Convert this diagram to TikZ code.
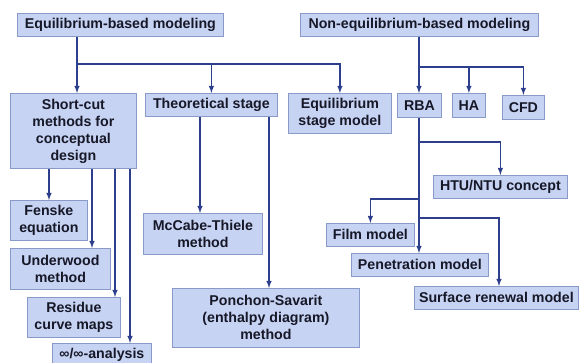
\documentclass[tikz,border=0pt]{standalone}
\usepackage{fontspec}
\setmainfont{Liberation Sans}
\usepackage{tikz}
\usetikzlibrary{arrows,calc}
\definecolor{boxfill}{RGB}{199,211,242}
\definecolor{boxline}{RGB}{138,154,200}
\definecolor{linkcol}{RGB}{45,62,140}
\definecolor{txtcol}{RGB}{22,24,40}
\tikzstyle{bx}=[rectangle, draw=boxline, fill=boxfill, line width=0.8pt, anchor=north west, inner sep=0pt, align=center, text=txtcol, font=\fontsize{14.2}{17}\selectfont\bfseries]
\tikzstyle{conn}=[draw=linkcol, line width=1.4pt, -latex]

\begin{document}
\begin{tikzpicture}[x=1pt,y=-1pt]
	\useasboundingbox (0,0) rectangle (579,363);

	%%% top row
	\node[bx,minimum width=206pt,minimum height=23pt] (eqm) at (17,13) {Equilibrium-based modeling};
	\node[bx,minimum width=238pt,minimum height=23pt] (neqm) at (300,13) {Non-equilibrium-based modeling};

	%%% second row, equilibrium side
	\node[bx,minimum width=126pt,minimum height=75pt] (shortcut) at (10,93) {Short-cut\\methods for\\conceptual\\design};
	\node[bx,minimum width=132pt,minimum height=23pt] (theo) at (145,93) {Theoretical stage};
	\node[bx,minimum width=103pt,minimum height=40pt] (esm) at (288,93) {Equilibrium\\stage model};

	%%% second row, non-equilibrium side
	\node[bx,minimum width=44pt,minimum height=24pt] (rba) at (397,93) {RBA};
	\node[bx,minimum width=33pt,minimum height=24pt] (ha) at (452,93) {HA};
	\node[bx,minimum width=42pt,minimum height=24pt] (cfd) at (502,95) {CFD};

	%%% short-cut methods
	\node[bx,minimum width=77pt,minimum height=40pt] (fenske) at (10,200) {Fenske\\equation};
	\node[bx,minimum width=100pt,minimum height=41pt] (underwood) at (10,248) {Underwood\\method};
	\node[bx,minimum width=93pt,minimum height=40pt] (residue) at (27,297) {Residue\\curve maps};
	\node[bx,minimum width=99pt,minimum height=23pt] (infinf) at (52,343) {∞/∞-analysis};

	%%% theoretical stage methods
	\node[bx,minimum width=119pt,minimum height=41pt] (mccabe) at (143,213) {McCabe-Thiele\\method};
	\node[bx,minimum width=187pt,minimum height=59pt] (ponchon) at (172,288) {Ponchon-Savarit\\(enthalpy diagram)\\method};

	%%% rate-based models
	\node[bx,minimum width=134pt,minimum height=23pt] (htu) at (433,175) {HTU/NTU concept};
	\node[bx,minimum width=88pt,minimum height=23pt] (film) at (326,223) {Film model};
	\node[bx,minimum width=137pt,minimum height=23pt] (penetration) at (351,253) {Penetration model};
	\node[bx,minimum width=164pt,minimum height=23pt] (surface) at (414,286) {Surface renewal model};

	% bus points
	\coordinate (eqbus) at (77,64);
	\coordinate (neqbus) at (419,67);
	\coordinate (rbaHtu) at (419,142);
	\coordinate (rbaFilm) at (419,199);
	\coordinate (rbaSurf) at (419,218);

	%%% equilibrium links
	\draw[conn] (eqm.south -| eqbus) -- (eqbus) -| (esm.north);
	\draw[conn] (eqbus) -- (eqbus |- shortcut.north);
	\draw[conn] (theo.north |- eqbus) -- (theo.north);

	\draw[conn] (49,0 |- shortcut.south) -- (49,0 |- fenske.north);
	\draw[conn] (92,0 |- shortcut.south) -- (92,0 |- underwood.north);
	\draw[conn] (115,0 |- shortcut.south) -- (115,0 |- residue.north);
	\draw[conn] (130,0 |- shortcut.south) -- (130,0 |- infinf.north);

	\draw[conn] (200,0 |- theo.south) -- (200,0 |- mccabe.north);
	\draw[conn] (269,0 |- theo.south) -- (269,0 |- ponchon.north);

	%%% non-equilibrium links
	\draw[conn] (neqm.south -| neqbus) -- (neqbus |- rba.north);
	\draw[conn] (neqbus) -| (ha.north);
	\draw[conn] (neqbus) -| (cfd.north);

	\draw[conn] (rba.south -| rbaHtu) -- (rbaHtu |- penetration.north);
	\draw[conn] (rbaHtu) -| (htu.north);
	\draw[conn] (rbaFilm) -| (film.north);
	\draw[conn] (rbaSurf) -| (499,0 |- surface.north);
\end{tikzpicture}
\end{document}
